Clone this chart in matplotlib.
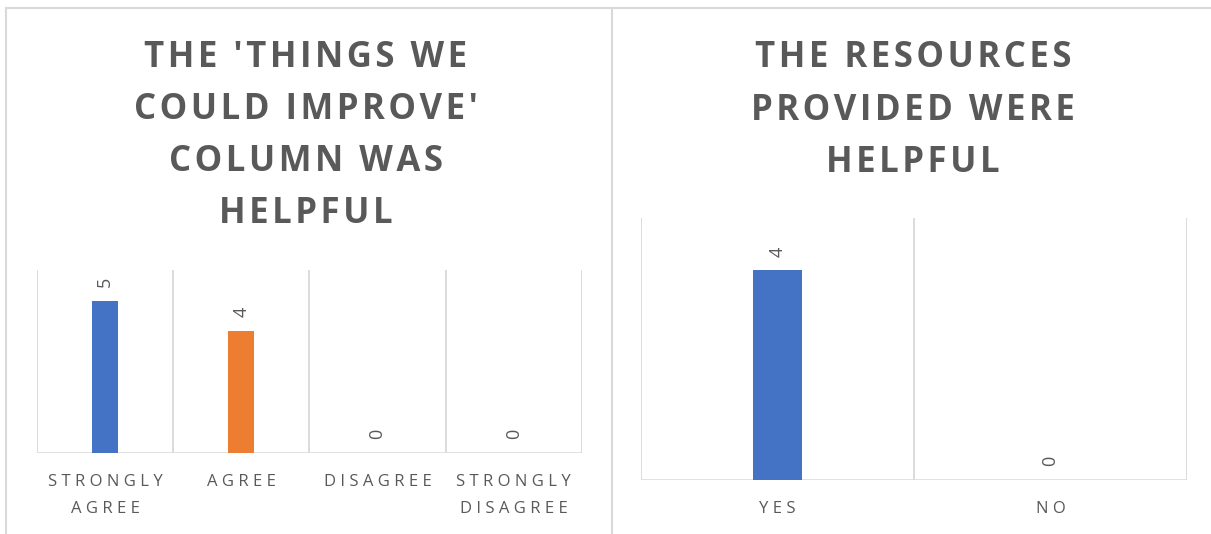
import matplotlib
matplotlib.use("Agg")
import matplotlib.pyplot as plt
from matplotlib.lines import Line2D
import numpy as np

plt.rcParams['font.family'] = ['Open Sans', 'DejaVu Sans']

# data
left_title = "THE 'THINGS WE\nCOULD IMPROVE'\nCOLUMN WAS\nHELPFUL"
left_cats = ["STRONGLY\nAGREE", "AGREE", "DISAGREE", "STRONGLY\nDISAGREE"]
left_vals = [5, 4, 0, 0]
left_colors = ["#4472C4", "#ED7D31", "#A5A5A5", "#FFC000"]

right_title = "THE RESOURCES\nPROVIDED WERE\nHELPFUL"
right_cats = ["YES", "NO"]
right_vals = [4, 0]
right_colors = ["#4472C4", "#4472C4"]

TXT = "#595959"
GRID = "#d9d9d9"
W, H = 1211, 534


def spaced(s, sep="\u200a"):
    return "\n".join(sep.join(line) for line in s.split("\n"))


def draw_chart(ax, cats, vals, colors, ymax, width, pad):
    x = np.arange(len(cats))
    ax.bar(x, vals, width=width, color=colors, zorder=3)
    ax.set_xlim(-0.5, len(cats) - 0.5)
    ax.set_ylim(0, ymax)
    for b in np.arange(len(cats) + 1) - 0.5:
        ax.axvline(b, color=GRID, lw=1.3, zorder=1)
    ax.axhline(0, color=GRID, lw=1.8, zorder=2)
    for xi, v in zip(x, vals):
        ax.annotate(str(v), (xi, v), xytext=(0, 10), textcoords="offset points",
                    rotation=90, ha="center", va="bottom", color=TXT, fontsize=13)
    ax.set_xticks(x)
    ax.set_xticklabels([spaced(c, "\u2009\u200a") for c in cats], color=TXT,
                       fontsize=12, linespacing=1.95)
    ax.tick_params(axis="x", length=0, pad=pad)
    ax.set_yticks([])
    for s in ax.spines.values():
        s.set_visible(False)
    ax.patch.set_alpha(0)


fig = plt.figure(figsize=(W / 100, H / 100), dpi=100)

# panel frames
for xs, ys in [([6 / W, 6 / W], [0, 1 - 8 / H]),
               ([6 / W, 1], [1 - 8 / H, 1 - 8 / H]),
               ([612 / W, 612 / W], [0, 1 - 8 / H])]:
    fig.add_artist(Line2D(xs, ys, color=GRID, lw=1.5, transform=fig.transFigure))

ax1 = fig.add_axes([37 / W, 1 - 453 / H, 545 / W, 183 / H])
draw_chart(ax1, left_cats, left_vals, left_colors, 6, 0.19, 15)

ax2 = fig.add_axes([641 / W, 1 - 480 / H, 546 / W, 262 / H])
draw_chart(ax2, right_cats, right_vals, right_colors, 5, 0.18, 15)

fig.text(306 / W, 1 - 136 / H, spaced(left_title), ha="center", va="center",
         fontsize=25, fontweight="bold", color=TXT, linespacing=1.6)
fig.text(913 / W, 1 - 110.5 / H, spaced(right_title), ha="center", va="center",
         fontsize=25, fontweight="bold", color=TXT, linespacing=1.6)

fig.savefig("out.png", dpi=100, facecolor="white")
